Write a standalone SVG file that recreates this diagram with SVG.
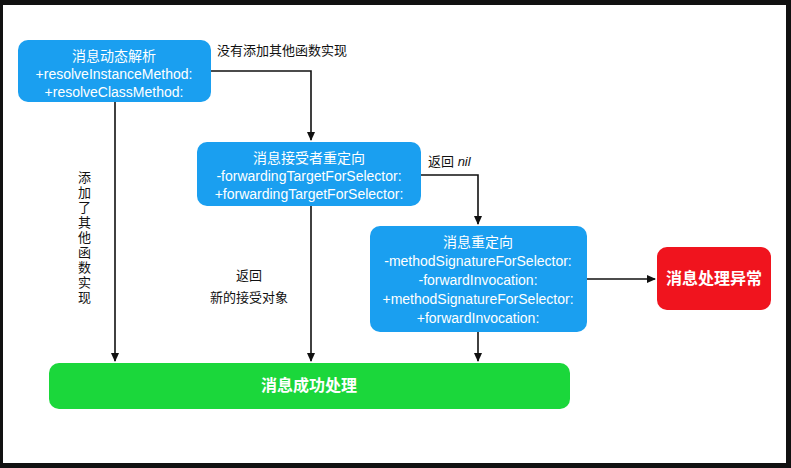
<svg xmlns="http://www.w3.org/2000/svg" width="791" height="468" viewBox="0 0 791 468">
<style>
.b{fill:#1a9ff0}
.t{font-family:"Liberation Sans","Noto Sans CJK SC",sans-serif;font-size:14px;fill:#fff;text-anchor:middle}
.l{font-family:"Liberation Sans","Noto Sans CJK SC",sans-serif;font-size:13px;fill:#111}
.c{fill:none;stroke:#111;stroke-width:1.6}
</style>
<defs><marker id="a" markerWidth="10" markerHeight="10" refX="8" refY="5" orient="auto" markerUnits="userSpaceOnUse"><path d="M0,1 L9,5 L0,9Z" fill="#111"/></marker></defs>
<rect width="791" height="468" fill="#111"/>
<rect x="3" y="5" width="783" height="458" fill="#fff"/>
<g id="connectors">
<path class="c" d="M211,71 H311 V140" marker-end="url(#a)"/>
<path class="c" d="M115,102 V361" marker-end="url(#a)"/>
<path class="c" d="M311,206 V361" marker-end="url(#a)"/>
<path class="c" d="M421,175 H478 V224" marker-end="url(#a)"/>
<path class="c" d="M478,332 V361" marker-end="url(#a)"/>
<path class="c" d="M587,279 H655" marker-end="url(#a)"/>
<text class="l" x="217" y="55">没有添加其他函数实现</text>
<text class="l" x="428" y="166">返回 <tspan font-style="italic">nil</tspan></text>
<text class="l" x="249" y="280" text-anchor="middle">返回</text>
<text class="l" x="249" y="302" text-anchor="middle">新的接受对象</text>
<text class="l" x="78" y="182">添</text><text class="l" x="78" y="197">加</text><text class="l" x="78" y="212">了</text><text class="l" x="78" y="227">其</text><text class="l" x="78" y="242">他</text><text class="l" x="78" y="257">函</text><text class="l" x="78" y="272">数</text><text class="l" x="78" y="287">实</text><text class="l" x="78" y="302">现</text>
</g>
<g id="n1"><rect class="b" x="18" y="40" width="193" height="62" rx="10"/>
<text class="t" x="114" y="61">消息动态解析</text><text class="t" x="114" y="79">+resolveInstanceMethod:</text><text class="t" x="114" y="97">+resolveClassMethod:</text></g>
<g id="n2"><rect class="b" x="197" y="142" width="224" height="64" rx="10"/>
<text class="t" x="309" y="163">消息接受者重定向</text><text class="t" x="309" y="181">-forwardingTargetForSelector:</text><text class="t" x="309" y="199">+forwardingTargetForSelector:</text></g>
<g id="n3"><rect class="b" x="370" y="226" width="217" height="106" rx="10"/>
<text class="t" x="478" y="247">消息重定向</text><text class="t" x="478" y="266">-methodSignatureForSelector:</text><text class="t" x="478" y="285">-forwardInvocation:</text><text class="t" x="478" y="304">+methodSignatureForSelector:</text><text class="t" x="478" y="323">+forwardInvocation:</text></g>
<g id="n4"><rect x="657" y="247" width="114" height="63" rx="10" fill="#f0141e"/>
<text class="t" x="714" y="284" style="font-size:16px;font-weight:bold">消息处理异常</text></g>
<g id="n5"><rect x="49" y="363" width="521" height="46" rx="10" fill="#1bd73b"/>
<text class="t" x="309" y="391" style="font-size:16px;font-weight:bold">消息成功处理</text></g>
</svg>
